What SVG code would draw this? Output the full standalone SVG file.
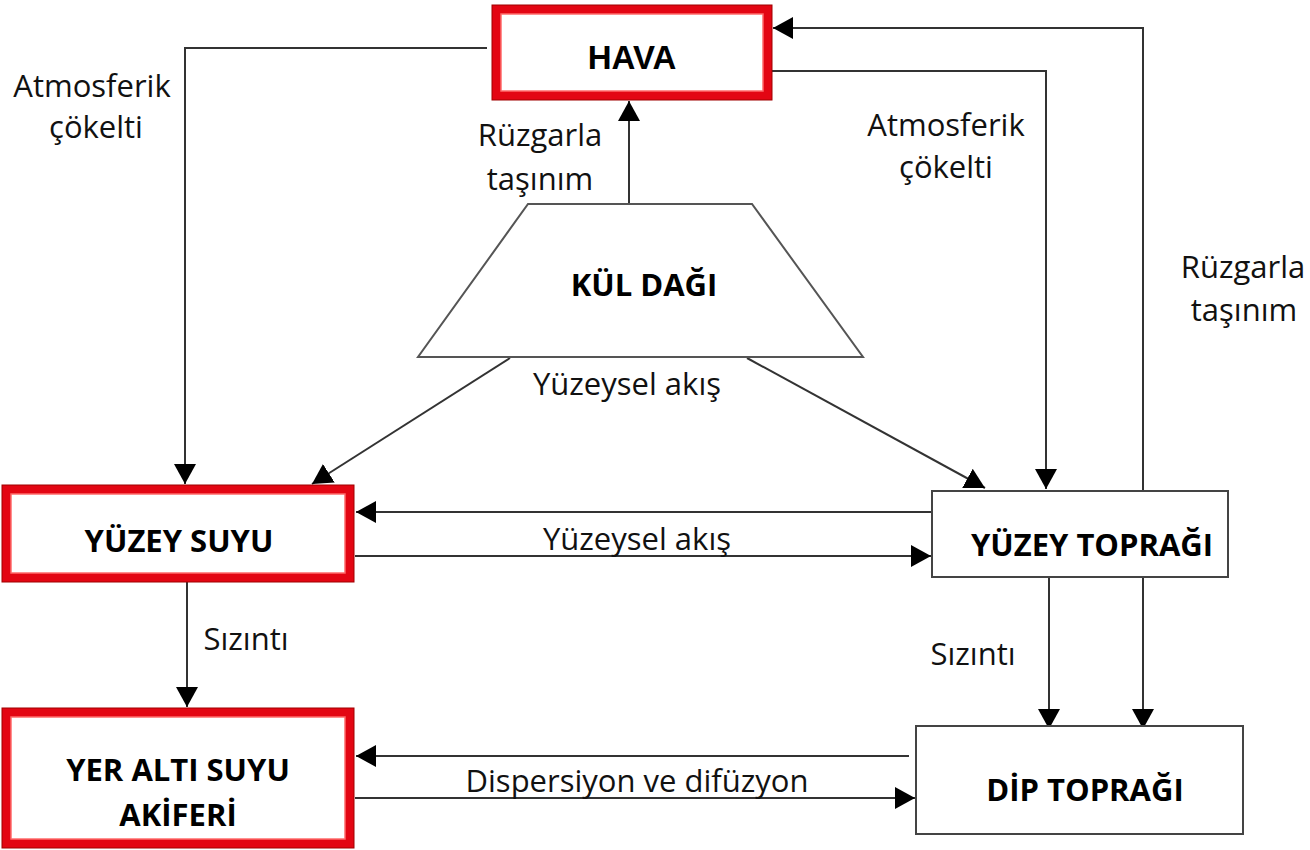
<svg xmlns="http://www.w3.org/2000/svg" width="1310" height="850" viewBox="0 0 1310 850">
<defs>
<marker id="ah" viewBox="0 0 20 22" refX="20" refY="11" markerWidth="20" markerHeight="22" markerUnits="userSpaceOnUse" orient="auto">
<path d="M0,0 L20,11 L0,22 Z" fill="#000"/>
</marker>
<style>
.red{fill:#fff;stroke:#e30613;stroke-width:9}
.redo{fill:none;stroke:#a00000;stroke-width:1}
.redi{fill:none;stroke:#ff6b6b;stroke-width:1.5}
.box{fill:#fff;stroke:#444;stroke-width:2}
.ln{fill:none;stroke:#333;stroke-width:2}
.arr{fill:none;stroke:#333;stroke-width:2;marker-end:url(#ah)}
.lbl{font-family:"Open Sans","Noto Sans",sans-serif;font-size:31px;fill:#111}
.nb{font-family:"Open Sans","Noto Sans",sans-serif;font-size:31px;font-weight:bold;fill:#000;text-anchor:middle}
.hv{font-family:"Liberation Sans",Arial,sans-serif;font-size:33px;font-weight:bold;fill:#000;text-anchor:middle}
</style>
</defs>
<rect width="1310" height="850" fill="#fff"/>
<g id="connectors">
<polyline class="arr" points="487,48 185,48 185,484"/>
<line class="arr" x1="629" y1="205" x2="629" y2="101"/>
<polyline class="arr" points="772,71 1046,71 1046,489"/>
<polyline class="arr" points="1143,490 1143,28 773,28"/>
<line class="arr" x1="510" y1="358" x2="312" y2="484"/>
<line class="arr" x1="747" y1="358" x2="985" y2="488"/>
<line class="arr" x1="932" y1="512" x2="356" y2="512"/>
<line class="arr" x1="355" y1="556" x2="931" y2="556"/>
<line class="arr" x1="187" y1="582" x2="187" y2="707"/>
<line class="arr" x1="1049" y1="577" x2="1049" y2="729"/>
<line class="arr" x1="1143" y1="577" x2="1143" y2="729"/>
<line class="arr" x1="909" y1="756" x2="356" y2="756"/>
<line class="arr" x1="355" y1="798" x2="915" y2="798"/>
<g class="lbl">
<text x="92" y="97" text-anchor="middle">Atmosferik</text>
<text x="96" y="138" text-anchor="middle">çökelti</text>
<text x="540" y="146" text-anchor="middle">Rüzgarla</text>
<text x="540" y="190" text-anchor="middle">taşınım</text>
<text x="946" y="136" text-anchor="middle">Atmosferik</text>
<text x="946" y="178" text-anchor="middle">çökelti</text>
<text x="1243" y="278" text-anchor="middle">Rüzgarla</text>
<text x="1244" y="321" text-anchor="middle">taşınım</text>
<text x="627" y="395" text-anchor="middle">Yüzeysel akış</text>
<text x="637" y="550" text-anchor="middle">Yüzeysel akış</text>
<text x="246" y="650" text-anchor="middle">Sızıntı</text>
<text x="973" y="665" text-anchor="middle">Sızıntı</text>
<text x="637" y="792" text-anchor="middle">Dispersiyon ve difüzyon</text>
</g>
</g>
<g id="hava">
<rect class="red" x="496.5" y="9.5" width="271" height="86"/>
<rect class="redo" x="492" y="5" width="280" height="95"/>
<rect class="redi" x="501" y="14" width="262" height="77"/>
<text class="hv" x="632" y="69">HAVA</text>
</g>
<g id="kul-dagi">
<polygon points="528,204 752,204 863,357 418,357" fill="#fff" stroke="#555" stroke-width="2"/>
<text class="nb" x="644" y="296">KÜL DAĞI</text>
</g>
<g id="yuzey-suyu">
<rect class="red" x="6.5" y="489.5" width="343" height="88"/>
<rect class="redo" x="2" y="485" width="352" height="97"/>
<rect class="redi" x="11" y="494" width="334" height="79"/>
<text class="nb" x="179" y="552">YÜZEY SUYU</text>
</g>
<g id="yer-alti-suyu">
<rect class="red" x="6.5" y="712.5" width="343" height="131"/>
<rect class="redo" x="2" y="708" width="352" height="140"/>
<rect class="redi" x="11" y="717" width="334" height="122"/>
<text class="nb" x="178" y="781">YER ALTI SUYU</text>
<text class="nb" x="178" y="826">AKİFERİ</text>
</g>
<g id="yuzey-topragi">
<rect class="box" x="932" y="491" width="296" height="86"/>
<text class="nb" x="1092" y="556">YÜZEY TOPRAĞI</text>
</g>
<g id="dip-topragi">
<rect class="box" x="916" y="726" width="327" height="108"/>
<text class="nb" x="1085" y="801">DİP TOPRAĞI</text>
</g>
</svg>
